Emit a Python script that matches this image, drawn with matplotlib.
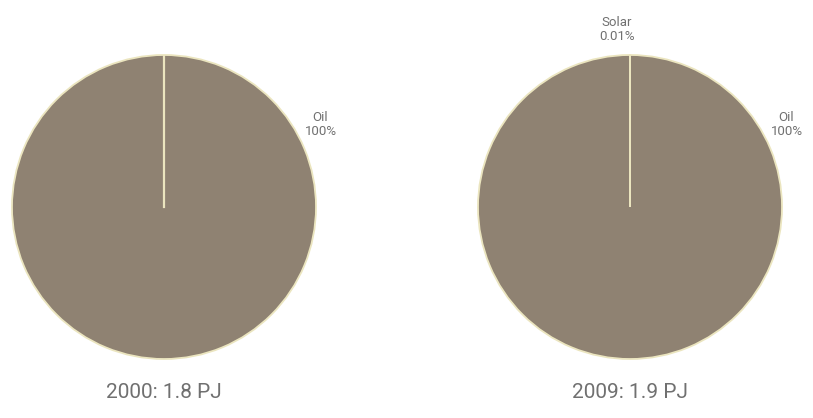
import matplotlib
matplotlib.use("Agg")
import matplotlib.pyplot as plt

plt.rcParams['font.family'] = ['Roboto', 'DejaVu Sans']

# Data
years = ["2000", "2009"]
totals = ["1.8 PJ", "1.9 PJ"]
sources = [["Oil"], ["Oil", "Solar"]]
shares = [[100.0], [99.99, 0.01]]
share_labels = [["100%"], ["100%", "0.01%"]]

colors = {"Oil": "#8f8272", "Solar": "#e3d39a"}
edge = "#ebe5bf"
text_col = "#707070"

W, H = 813, 418
fig = plt.figure(figsize=(W / 100, H / 100), dpi=100)

centers = [164, 630]
cy, r = 207, 152
label_pos = {"Oil": (1.03, 0.54), "Solar": (-0.085, 1.165)}

for i, cx in enumerate(centers):
    ax = fig.add_axes([(cx - r) / W, (H - cy - r) / H, 2 * r / W, 2 * r / H])
    ax.pie(shares[i], colors=[colors[s] for s in sources[i]],
           startangle=90, counterclock=False,
           wedgeprops=dict(edgecolor=edge, linewidth=1.3))
    if len(shares[i]) == 1:
        # single slice still shows its start edge
        ax.plot([0, 0], [0, 1], color=edge, lw=1.6)
    ax.set_xlim(-1, 1)
    ax.set_ylim(-1, 1)
    ax.set_aspect('equal')
    ax.axis('off')
    for s, lab in zip(sources[i], share_labels[i]):
        x, y = label_pos[s]
        ax.text(x, y, f"{s}\n{lab}", ha='center', va='center', fontsize=9.5,
                color=text_col, linespacing=1.1, clip_on=False)
    fig.text(cx / W, 1 - 393 / H, f"{years[i]}: {totals[i]}", ha='center',
             va='center', fontsize=15, color=text_col)

fig.savefig("out.png", dpi=100, facecolor='white')
